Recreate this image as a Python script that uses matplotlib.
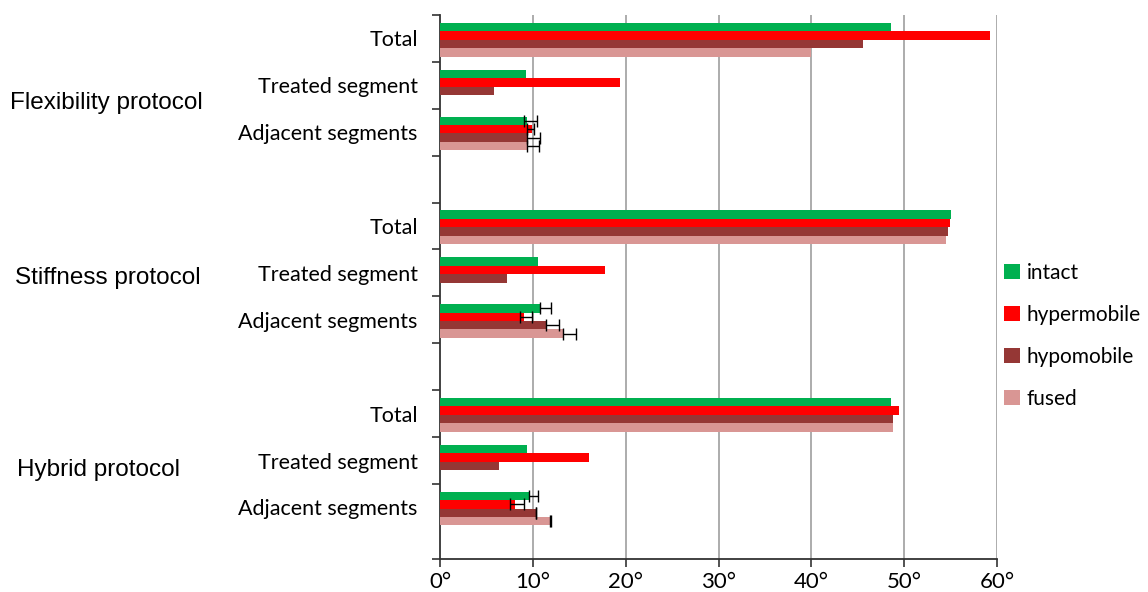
import numpy as np
import matplotlib
matplotlib.use("Agg")
import matplotlib.pyplot as plt
from matplotlib.patches import Patch

# ---- data ----
protocols = ["Flexibility protocol", "Stiffness protocol", "Hybrid protocol"]
categories = ["Total", "Treated segment", "Adjacent segments"]
series_names = ["intact", "hypermobile", "hypomobile", "fused"]
colors = ["#00B050", "#FF0000", "#953735", "#D99694"]

# rows: Flex(Total, Treated, Adjacent), Stiff(...), Hybrid(...)
intact = [48.6, 9.3, 9.4, 55.0, 10.6, 10.8, 48.6, 9.4, 9.6]
hypermobile = [59.2, 19.4, 9.9, 54.9, 17.8, 9.1, 49.4, 16.0, 8.1]
hypomobile = [45.6, 5.8, 9.4, 54.7, 7.2, 11.4, 48.8, 6.4, 10.3]
fused = [40.0, np.nan, 9.4, 54.5, np.nan, 13.2, 48.8, np.nan, 11.9]

# error bars for the "Adjacent segments" rows (Flex, Stiff, Hybrid)
err_lo = {
    "intact": [0.3, 0.0, 0.0],
    "hypermobile": [0.5, 0.5, 0.6],
    "hypomobile": [0.0, 0.0, 0.0],
    "fused": [0.0, 0.0, 0.0],
}
err_hi = {
    "intact": [1.0, 1.2, 1.0],
    "hypermobile": [0.2, 0.8, 0.9],
    "hypomobile": [1.4, 1.4, 0.05],
    "fused": [1.3, 1.5, 0.05],
}
xticks = [0, 10, 20, 30, 40, 50, 60]
xtick_labels = ["0°", "10°", "20°", "30°", "40°", "50°", "60°"]

values = [intact, hypermobile, hypomobile, fused]

# ---- layout ----
W, H = 1148, 592
fig = plt.figure(figsize=(W / 100, H / 100), dpi=100)
ax = fig.add_axes([440 / W, 1 - 559 / H, 557 / W, 544 / H])

slots = []  # slot index for each row
for g in range(3):
    for r in range(3):
        slots.append(4 * g + r)
slots = np.array(slots, dtype=float)

bh = 0.18
for k, (name, vals, col) in enumerate(zip(series_names, values, colors)):
    y = slots + 0.525 + (k - 1.5) * bh
    v = np.array(vals, dtype=float)
    ax.barh(y, v, height=bh, color=col, zorder=3, linewidth=0)
    adj = np.array([2, 5, 8])
    ax.errorbar(v[adj], y[adj], xerr=[err_lo[name], err_hi[name]], fmt="none",
                ecolor="black", elinewidth=1.0, capsize=4, capthick=1.0, zorder=4)

ax.set_xlim(0, 60)
ax.set_ylim(11.6, 0)
ax.set_xticks(xticks)
ax.set_xticklabels(xtick_labels, fontsize=16, family="Lato")
ax.tick_params(axis="x", length=6, width=1.2, color="#333333", pad=3)

# y ticks at slot boundaries, labels at slot centres
ax.set_yticks(list(range(11)) + [11.6])
ax.set_yticklabels([])
ax.tick_params(axis="y", which="major", length=6, width=1.2, color="#333333")
ax.set_yticks(slots + 0.5, minor=True)
ax.set_yticklabels(categories * 3, minor=True, fontsize=15.5, family="Lato")
ax.tick_params(axis="y", which="minor", length=0, pad=16)

for x in xticks[1:]:
    ax.axvline(x, color="#A6A6A6", lw=1.3, zorder=1)

for s in ["top", "right"]:
    ax.spines[s].set_visible(False)
for s in ["left", "bottom"]:
    ax.spines[s].set_color("#333333")
    ax.spines[s].set_linewidth(1.3)

group_label_y = [1.88, 5.6, 9.7]
group_label_x = [10 / W, 15 / W, 17 / W]
for lab, gx, gy in zip(protocols, group_label_x, group_label_y):
    ax.text(gx, gy, lab, fontsize=17.5, family="Liberation Sans",
            ha="left", va="center",
            transform=matplotlib.transforms.blended_transform_factory(fig.transFigure, ax.transData))

handles = [Patch(facecolor=c, edgecolor="none") for c in colors]
fig.legend(handles, series_names, loc="upper left",
           bbox_to_anchor=(1004 / W, 1 - 263 / H), frameon=False,
           prop={"family": "Lato", "size": 15}, handlelength=0.75,
           handleheight=0.75, handletextpad=0.35, labelspacing=1.05,
           borderaxespad=0, borderpad=0)

fig.savefig("out.png", dpi=100)
